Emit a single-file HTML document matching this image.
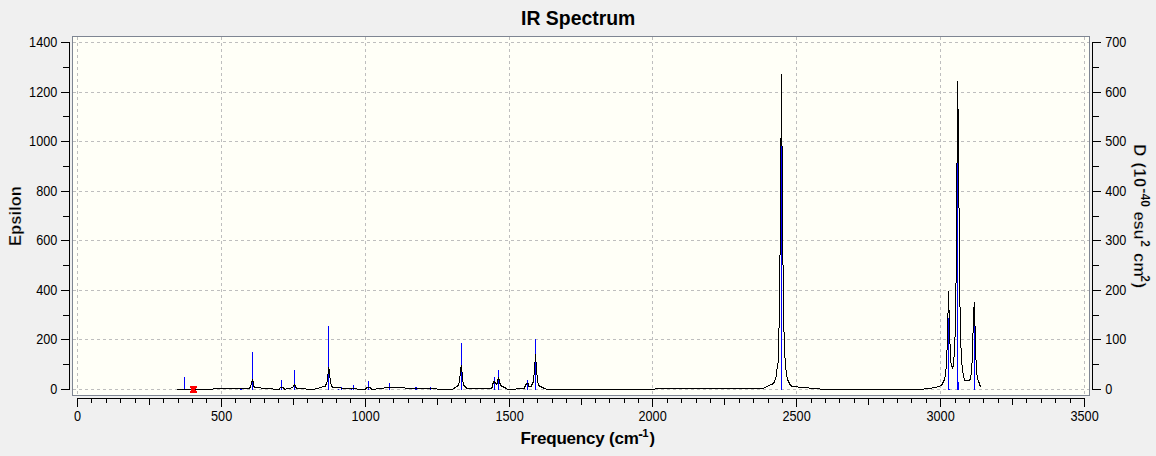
<!DOCTYPE html>
<html lang="en"><head><meta charset="utf-8"><title>IR Spectrum</title>
<style>html,body{margin:0;padding:0;background:#f0f0f0;overflow:hidden}svg{display:block}</style></head>
<body>
<svg width="1156" height="456" viewBox="0 0 1156 456" shape-rendering="crispEdges">
<rect x="0" y="0" width="1156" height="456" fill="#f0f0f0"/>
<rect x="72.5" y="36.5" width="1017" height="359" fill="#fffff7" stroke="#7e8592" stroke-width="1"/>
<path d="M73 389.5H1089M73 339.5H1089M73 290.5H1089M73 240.5H1089M73 191.5H1089M73 141.5H1089M73 92.5H1089M73 42.5H1089" fill="none" stroke="#bebebe" stroke-width="1" stroke-dasharray="3 3"/>
<path d="M77.5 37V395M221.5 37V395M365.5 37V395M509.5 37V395M652.5 37V395M796.5 37V395M940.5 37V395M1084.5 37V395" fill="none" stroke="#bebebe" stroke-width="1" stroke-dasharray="3 3"/>
<path d="M184.5 377V390M240.5 389V390M241.5 389V390M252.5 352V390M281.5 380V390M294.5 370V390M328.5 326V390M338.5 389V390M341.5 387V390M351.5 389V390M353.5 385V390M368.5 381V390M389.5 383V390M415.5 387V390M416.5 387V390M430.5 387V390M461.5 343V390M494.5 377V390M498.5 370V390M527.5 380V390M535.5 339V390M781.5 146V390M948.5 318V390M949.5 389V390M957.5 163V390M958.5 382V390M974.5 326V390" fill="none" stroke="#0000ff" stroke-width="1"/>
<path d="M177 389h36v1h-36zM213 388h36v1h-36zM249 387h1v2h-1zM250 385h1v3h-1zM251 381h1v4h-1zM252 379h1v3h-1zM253 381h1v6h-1zM254 386h1v2h-1zM255 387h6v1h-6zM261 388h12v1h-12zM273 389h6v1h-6zM279 388h1v2h-1zM280 387h3v1h-3zM283 387h1v2h-1zM284 388h1v2h-1zM285 389h1v1h-1zM286 388h5v1h-5zM291 387h2v1h-2zM293 385h1v2h-1zM294 384h1v2h-1zM295 385h1v3h-1zM296 387h1v2h-1zM297 388h9v1h-9zM306 389h9v1h-9zM315 388h4v1h-4zM319 387h3v1h-3zM322 386h3v1h-3zM325 384h1v3h-1zM326 382h1v3h-1zM327 374h1v8h-1zM328 367h1v7h-1zM329 369h1v9h-1zM330 378h1v6h-1zM331 384h1v3h-1zM332 386h1v2h-1zM333 387h8v1h-8zM341 388h16v1h-16zM357 389h8v1h-8zM365 388h1v2h-1zM366 387h1v2h-1zM367 387h3v1h-3zM370 387h1v2h-1zM371 388h1v2h-1zM372 389h4v1h-4zM376 388h8v1h-8zM384 387h21v1h-21zM405 388h32v1h-32zM437 389h16v1h-16zM453 388h1v1h-1zM454 387h1v2h-1zM455 387h1v1h-1zM456 386h1v1h-1zM457 385h1v2h-1zM458 383h1v3h-1zM459 376h1v7h-1zM460 367h1v9h-1zM461 365h1v7h-1zM462 372h1v10h-1zM463 382h1v4h-1zM464 385h1v2h-1zM465 386h1v2h-1zM466 387h1v2h-1zM467 388h24v1h-24zM491 387h1v2h-1zM492 383h1v5h-1zM493 381h1v3h-1zM494 381h1v2h-1zM495 382h1v2h-1zM496 383h1v2h-1zM497 379h1v5h-1zM498 377h1v3h-1zM499 379h1v5h-1zM500 383h1v3h-1zM501 385h1v2h-1zM502 386h1v1h-1zM503 386h1v2h-1zM504 387h1v1h-1zM505 387h1v2h-1zM506 388h1v1h-1zM507 389h9v1h-9zM516 388h8v1h-8zM524 386h1v3h-1zM525 384h1v3h-1zM526 383h1v2h-1zM527 383h1v1h-1zM528 383h1v4h-1zM529 386h2v1h-2zM531 384h1v3h-1zM532 382h1v3h-1zM533 375h1v8h-1zM534 362h1v13h-1zM535 354h1v8h-1zM536 362h1v13h-1zM537 375h1v8h-1zM538 383h1v3h-1zM539 385h1v2h-1zM540 386h1v1h-1zM541 386h1v2h-1zM542 387h1v1h-1zM543 387h1v2h-1zM544 388h2v1h-2zM546 389h109v1h-109zM655 388h109v1h-109zM764 387h2v1h-2zM766 386h2v1h-2zM768 385h2v1h-2zM770 384h2v1h-2zM772 383h1v2h-1zM773 382h1v2h-1zM774 380h1v3h-1zM775 377h1v3h-1zM776 369h1v8h-1zM777 363h1v6h-1zM778 328h1v35h-1zM779 255h1v73h-1zM780 138h1v117h-1zM781 74h1v72h-1zM782 146h1v119h-1zM783 265h1v67h-1zM784 332h1v26h-1zM785 358h1v12h-1zM786 370h1v7h-1zM787 377h1v4h-1zM788 380h1v3h-1zM789 382h1v3h-1zM790 384h1v2h-1zM791 385h1v2h-1zM792 386h6v1h-6zM798 387h11v1h-11zM809 388h11v1h-11zM820 389h104v1h-104zM924 388h8v1h-8zM932 387h5v1h-5zM937 386h3v1h-3zM940 385h1v1h-1zM941 384h1v2h-1zM942 382h1v3h-1zM943 380h1v3h-1zM944 377h1v4h-1zM945 369h1v8h-1zM946 350h1v19h-1zM947 313h1v37h-1zM948 291h1v22h-1zM949 310h1v34h-1zM950 344h1v19h-1zM951 363h1v4h-1zM952 366h1v3h-1zM953 357h1v10h-1zM954 337h1v20h-1zM955 283h1v54h-1zM956 163h1v120h-1zM957 81h1v82h-1zM958 109h1v99h-1zM959 208h1v99h-1zM960 307h1v41h-1zM961 348h1v17h-1zM962 365h1v8h-1zM963 373h1v5h-1zM964 378h1v3h-1zM965 380h4v1h-4zM969 379h1v2h-1zM970 375h1v5h-1zM971 363h1v12h-1zM972 333h1v30h-1zM973 307h1v26h-1zM974 302h1v24h-1zM975 326h1v34h-1zM976 360h1v15h-1zM977 375h1v5h-1zM978 380h1v3h-1zM979 382h1v4h-1zM980 385h1v2h-1z" fill="#000"/>
<path d="M190 386h7v1h-7zM190 387h7v1h-7zM191 388h5v1h-5zM191 389h4v1h-4zM191 390h5v1h-5zM190 391h7v1h-7zM190 392h7v1h-7z" fill="#ff0000"/>
<path d="M69.5 42V390M61 389.5H70M63 364.5H70M61 339.5H70M63 315.5H70M61 290.5H70M63 265.5H70M61 240.5H70M63 216.5H70M61 191.5H70M63 166.5H70M61 141.5H70M63 116.5H70M61 92.5H70M63 67.5H70M61 42.5H70M1092.5 42V390M1092 389.5H1101M1092 364.5H1099M1092 339.5H1101M1092 315.5H1099M1092 290.5H1101M1092 265.5H1099M1092 240.5H1101M1092 216.5H1099M1092 191.5H1101M1092 166.5H1099M1092 141.5H1101M1092 116.5H1099M1092 92.5H1101M1092 67.5H1099M1092 42.5H1101M77 398.5H1085M77.5 398V407M91.5 398V403M106.5 398V403M120.5 398V403M135.5 398V403M149.5 398V405M163.5 398V403M178.5 398V403M192.5 398V403M206.5 398V403M221.5 398V407M235.5 398V403M250.5 398V403M264.5 398V403M278.5 398V403M293.5 398V405M307.5 398V403M322.5 398V403M336.5 398V403M350.5 398V403M365.5 398V407M379.5 398V403M393.5 398V403M408.5 398V403M422.5 398V403M437.5 398V405M451.5 398V403M465.5 398V403M480.5 398V403M494.5 398V403M509.5 398V407M523.5 398V403M537.5 398V403M552.5 398V403M566.5 398V403M581.5 398V405M595.5 398V403M609.5 398V403M624.5 398V403M638.5 398V403M652.5 398V407M667.5 398V403M681.5 398V403M696.5 398V403M710.5 398V403M724.5 398V405M739.5 398V403M753.5 398V403M768.5 398V403M782.5 398V403M796.5 398V407M811.5 398V403M825.5 398V403M839.5 398V403M854.5 398V403M868.5 398V405M883.5 398V403M897.5 398V403M911.5 398V403M926.5 398V403M940.5 398V407M955.5 398V403M969.5 398V403M983.5 398V403M998.5 398V403M1012.5 398V405M1026.5 398V403M1041.5 398V403M1055.5 398V403M1070.5 398V403M1084.5 398V407" fill="none" stroke="#000" stroke-width="1"/>
<g style="font-family:'Liberation Sans',sans-serif;font-size:12.7px;fill:#000">
<text transform="translate(57.3 394.2) scale(1 1.08)" text-anchor="end">0</text>
<text transform="translate(1105.2 394.2) scale(1 1.08)" text-anchor="start">0</text>
<text transform="translate(57.3 344.2) scale(1 1.08)" text-anchor="end">200</text>
<text transform="translate(1105.2 344.2) scale(1 1.08)" text-anchor="start">100</text>
<text transform="translate(57.3 295.2) scale(1 1.08)" text-anchor="end">400</text>
<text transform="translate(1105.2 295.2) scale(1 1.08)" text-anchor="start">200</text>
<text transform="translate(57.3 245.2) scale(1 1.08)" text-anchor="end">600</text>
<text transform="translate(1105.2 245.2) scale(1 1.08)" text-anchor="start">300</text>
<text transform="translate(57.3 196.2) scale(1 1.08)" text-anchor="end">800</text>
<text transform="translate(1105.2 196.2) scale(1 1.08)" text-anchor="start">400</text>
<text transform="translate(57.3 146.2) scale(1 1.08)" text-anchor="end">1000</text>
<text transform="translate(1105.2 146.2) scale(1 1.08)" text-anchor="start">500</text>
<text transform="translate(57.3 97.2) scale(1 1.08)" text-anchor="end">1200</text>
<text transform="translate(1105.2 97.2) scale(1 1.08)" text-anchor="start">600</text>
<text transform="translate(57.3 47.2) scale(1 1.08)" text-anchor="end">1400</text>
<text transform="translate(1105.2 47.2) scale(1 1.08)" text-anchor="start">700</text>
<text transform="translate(77.6 421.2) scale(1 1.08)" text-anchor="middle">0</text>
<text transform="translate(221.6 421.2) scale(1 1.08)" text-anchor="middle">500</text>
<text transform="translate(365.6 421.2) scale(1 1.08)" text-anchor="middle">1000</text>
<text transform="translate(509.6 421.2) scale(1 1.08)" text-anchor="middle">1500</text>
<text transform="translate(652.6 421.2) scale(1 1.08)" text-anchor="middle">2000</text>
<text transform="translate(796.6 421.2) scale(1 1.08)" text-anchor="middle">2500</text>
<text transform="translate(940.6 421.2) scale(1 1.08)" text-anchor="middle">3000</text>
<text transform="translate(1084.6 421.2) scale(1 1.08)" text-anchor="middle">3500</text>
</g>
<g style="font-family:'Liberation Sans',sans-serif;font-weight:bold;fill:#000">
<text x="578.2" y="25" text-anchor="middle" font-size="19.4">IR Spectrum</text>
<text><tspan x="520.4" y="444" font-size="17" letter-spacing="-0.2">Frequency (cm</tspan><tspan x="638.2" y="438.8" font-size="14">-</tspan><tspan x="642.3" y="437" font-size="11.4">1</tspan><tspan x="649.6" y="444" font-size="16.6">)</tspan></text>
<text transform="translate(21 246) rotate(-90)" font-size="16.6" stroke="#f0f0f0" stroke-width="0.3" paint-order="fill stroke">Epsilon</text>
<text transform="translate(1134 0) rotate(90)" stroke="#f0f0f0" paint-order="fill stroke"><tspan x="143.9" y="0" font-size="17.2" stroke-width="0.4">D</tspan><tspan x="162.4" y="0" font-size="16.6" letter-spacing="0.45" stroke-width="0.4">(10</tspan><tspan x="188.2" y="-5.6" font-size="16" stroke-width="0.4">-</tspan><tspan x="193.4" y="-7" font-size="12" letter-spacing="0.3" stroke-width="0.16">40</tspan><tspan x="211.6" y="0" font-size="16.6" letter-spacing="-0.3" stroke-width="0.4">esu</tspan><tspan x="240.3" y="-7" font-size="12" stroke-width="0.16">2</tspan><tspan x="253.0" y="0" font-size="16.6" stroke-width="0.4">cm</tspan><tspan x="275.3" y="-7" font-size="12" stroke-width="0.16">2</tspan><tspan x="282.4" y="0" font-size="16.6" stroke-width="0.4">)</tspan></text>
</g>
</svg>
</body></html>
